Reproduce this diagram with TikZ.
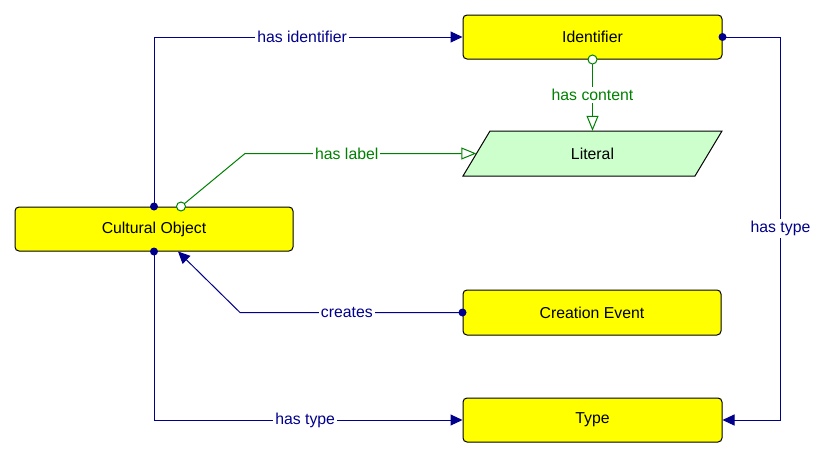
\documentclass[tikz,border=0pt]{standalone}
\usepackage{fontspec}
\setmainfont{Liberation Sans}
\usetikzlibrary{arrows.meta,calc}
\definecolor{navyc}{RGB}{0,0,140}
\definecolor{greenc}{RGB}{0,128,0}
\definecolor{ybox}{RGB}{255,255,0}
\definecolor{litc}{RGB}{204,255,204}
\tikzset{
  every node/.style={font=\fontsize{15.8}{18}\selectfont},
  yellowbox/.style={draw=black, line width=1pt, fill=ybox, rounded corners=4pt, inner sep=0pt},
  navyline/.style={draw=navyc, line width=1pt},
  greenline/.style={draw=greenc, line width=1pt},
  navylab/.style={fill=white, text=navyc, inner sep=2pt},
  greenlab/.style={fill=white, text=greenc, inner sep=2pt},
  filledtip/.style={-{Triangle[length=12pt,width=11pt]}},
  opentip/.style={-{Triangle[open,length=15pt,width=12pt,fill=white]}},
}
\newcommand{\navydot}[1]{\fill[navyc] (#1) circle (4pt);}
\newcommand{\greenring}[1]{\draw[greenc, line width=1pt, fill=white] (#1) circle (4.5pt);}
\begin{document}
\begin{tikzpicture}[x=1pt,y=-1pt]
\useasboundingbox (0,0) rectangle (828,458);
% nodes
\node[yellowbox, minimum width=259pt, minimum height=44pt] (ident) at (592.5,37) {\raisebox{-1pt}{Identifier}};
\node[yellowbox, minimum width=278pt, minimum height=44pt] (co) at (154,229) {\raisebox{-1.5pt}{Cultural Object}};
\node[yellowbox, minimum width=258pt, minimum height=45pt] (ce) at (592,312.5) {\raisebox{-1pt}{Creation Event}};
\node[yellowbox, minimum width=259pt, minimum height=44pt] (type) at (592.5,420) {\raisebox{-1.5pt}{Type}};
% literal parallelogram
\fill[litc] (490,131) -- (722,131) -- (695,176) -- (463,176) -- cycle;
\draw[black, line width=1pt] (490,131) -- (722,131) -- (695,176) -- (463,176) -- cycle;
\node[minimum width=232pt, minimum height=45pt, inner sep=0pt] (lit) at (592.5,153.5) {Literal};
% coordinates
\coordinate (hlstart) at ($(co.north)+(27,0)$);
\coordinate (crend) at ($(co.south)+(24,0)$);
% has identifier
\draw[navyline, filledtip] (co.north) |- node[navylab, pos=0.74] {has identifier} (ident.west);
\navydot{co.north}
% has type (right)
\draw[navyline, filledtip] (ident.east) -- ++(58,0) |- node[navylab, pos=0.25] {has type} (type.east);
\navydot{ident.east}
% has type (bottom)
\draw[navyline, filledtip] (co.south) |- node[navylab, pos=0.745] {has type} (type.west);
\navydot{co.south}
% creates
\draw[navyline, filledtip] (ce.west) -- node[navylab, pos=0.52] {creates} (240,312.5) -- (crend);
\navydot{ce.west}
% has content
\draw[greenline, opentip] (ident.south) -- node[greenlab] {has content} (lit.north);
\greenring{ident.south}
% has label
\draw[greenline, opentip] (hlstart) -- (245,153.5) -- node[greenlab, pos=0.44] {has label} (lit.west);
\greenring{hlstart}
\end{tikzpicture}
\end{document}
